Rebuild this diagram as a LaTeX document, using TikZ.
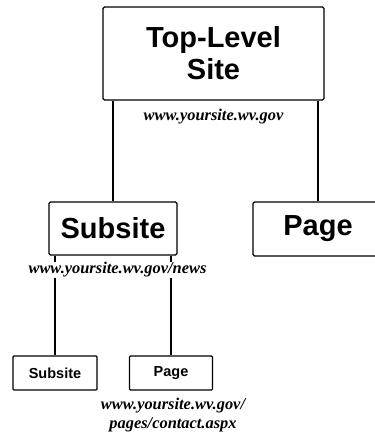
\documentclass[tikz,border=0pt]{standalone}
\usepackage{fontspec}
\setmainfont{Liberation Sans}
\newfontfamily\urlfont{Liberation Serif}
\begin{document}
\begin{tikzpicture}[x=1pt,y=-1pt,
  box/.style={draw, line width=1.1pt, rounded corners=1.5pt, align=center, inner sep=0pt, font=\bfseries\fontsize{29}{32}\selectfont},
  smallbox/.style={draw, line width=1.1pt, rounded corners=1pt, inner sep=0pt, font=\bfseries\fontsize{14.5}{16}\selectfont},
  url/.style={fill=white, inner sep=1pt, align=center, font=\urlfont\bfseries\itshape\fontsize{16.4}{19.5}\selectfont},
  conn/.style={line width=1.1pt}]
\useasboundingbox (0,0) rectangle (374,438);
\node[box, minimum width=221, minimum height=93] (top) at (213.5,53.5) {Top-Level\\Site};
\node[box, minimum width=128, minimum height=53] (sub) at (113,228.5) {Subsite};
\node[box, minimum width=130, minimum height=54] (page) at (318,229) {Page};
\node[smallbox, minimum width=84, minimum height=34] (s1) at (55,373) {Subsite};
\node[smallbox, minimum width=83, minimum height=34] (p1) at (171,373) {Page};
\draw[conn] (sub.north |- top.south) -- (sub.north);
\draw[conn] (page.north |- top.south) -- (page.north);
\draw[conn] (s1.north |- sub.south) -- (s1.north);
\draw[conn] (p1.north |- sub.south) -- (p1.north);
\node[url] (u1) at (213.5,117) {www.yoursite.wv.gov};
\node[url] (u2) at (117.5,270) {www.yoursite.wv.gov/news};
\node[url] (u3) at (173,415) {www.yoursite.wv.gov/\\pages/contact.aspx};
\end{tikzpicture}
\end{document}
